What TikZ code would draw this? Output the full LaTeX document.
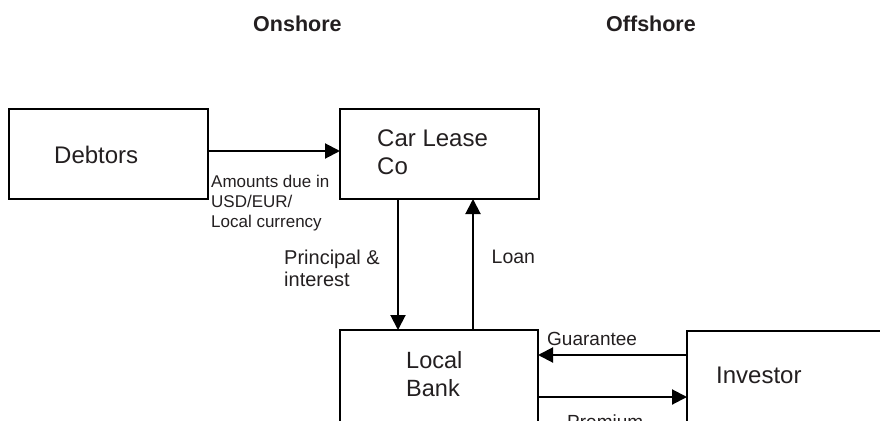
\documentclass[tikz,border=0pt]{standalone}
\usepackage{fontspec}
\setmainfont{Liberation Sans}
\usetikzlibrary{arrows.meta}
\definecolor{ink}{RGB}{35,31,32}
\begin{document}
\begin{tikzpicture}[x=1pt,y=-1pt,
  box/.style={draw=black, line width=2pt, rectangle, outer sep=0pt, inner sep=0pt, anchor=north west},
  flow/.style={draw=black, line width=2pt, -{Triangle[length=15pt,width=15pt]}},
  lbl/.style={text=ink, inner sep=0pt, anchor=base west, align=left},
  head/.style={lbl, font=\fontsize{21.5}{24}\selectfont\bfseries},
]
\useasboundingbox (0,0) rectangle (880,420);
\clip (0,0) rectangle (880,420);

% column headings
\node[head] (onshore) at (253,32) {Onshore};
\node[head] (offshore) at (606,32) {Offshore};

% parties (the lower boxes run past the bottom edge)
\node[box, minimum width=199pt, minimum height=90pt] (debtors) at (9,109) {};
\node[box, minimum width=199pt, minimum height=90pt] (carlease) at (340,109) {};
\node[box, minimum width=198pt, minimum height=110pt] (bank) at (340,330) {};
\node[box, minimum width=210pt, minimum height=110pt] (investor) at (687,331) {};

% party names (base anchor = baseline of the last line)
\node[lbl, font=\fontsize{24}{27}\selectfont] (tdebt) at (54,163) {Debtors};
\node[lbl, font=\fontsize{24}{27.3}\selectfont] (tcar) at (377,174) {Car Lease\\Co};
\node[lbl, font=\fontsize{23.5}{28}\selectfont] (tbank) at (406,396) {Local\\Bank};
\node[lbl, font=\fontsize{24}{27}\selectfont] (tinv) at (716,383) {Investor};

% columns / rows used by the flows
\coordinate (xdown) at (398,0);
\coordinate (xup) at (473,0);
\coordinate (yguar) at (0,355);
\coordinate (yprem) at (0,397);

% flows
\draw[flow] ([yshift=3pt]debtors.east) -- ([yshift=3pt]carlease.west);
\draw[flow] (carlease.south -| xdown) -- (bank.north -| xdown);
\draw[flow] (bank.north -| xup) -- (carlease.south -| xup);
\draw[flow] (investor.west |- yguar) -- (bank.east |- yguar);
\draw[flow] (bank.east |- yprem) -- (investor.west |- yprem);

% flow labels
\node[lbl, font=\fontsize{17}{20}\selectfont] (tamt) at (211,227) {Amounts due in\\USD/EUR/\\Local currency};
\node[lbl, font=\fontsize{20}{22}\selectfont] (tpi) at (284,286) {Principal \&\\interest};
\node[lbl, font=\fontsize{19.5}{22}\selectfont] (tloan) at (491.5,263.3) {Loan};
\node[lbl, font=\fontsize{19}{22}\selectfont] (tguar) at (547,345) {Guarantee};
\node[lbl, font=\fontsize{19}{22}\selectfont] (tprem) at (567,428) {Premium};
\end{tikzpicture}
\end{document}
